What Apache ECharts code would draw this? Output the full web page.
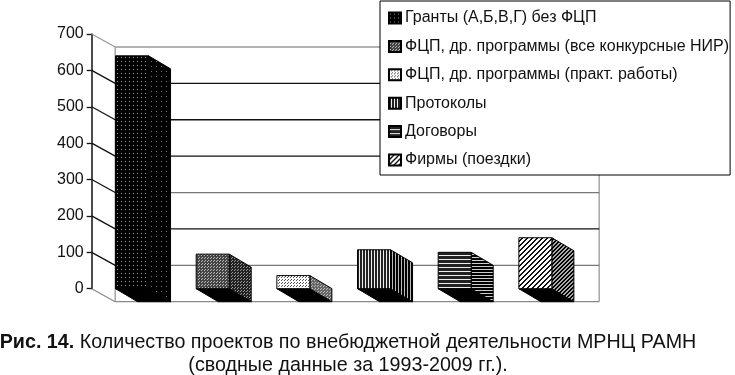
<!DOCTYPE html>
<html><head><meta charset="utf-8">
<style>html,body{margin:0;padding:0;background:#fff}#c{width:735px;height:375px}</style>
<script src="https://cdn.jsdelivr.net/npm/echarts@6/dist/echarts.min.js"></script></head>
<body><div id="c"></div>
<script>
const categories = ['Гранты (А,Б,В,Г) без ФЦП','ФЦП, др. программы (все конкурсные НИР)','ФЦП, др. программы (практ. работы)','Протоколы','Договоры','Фирмы (поездки)'];
const values = [640, 95, 36, 107, 100, 140];
const yTicks = [0,100,200,300,400,500,600,700];
const gridColors = ['#8a8a8a','#777','#111','#777','#111','#111','#111','#999'];
const slantColors = ['#8a8a8a','#111','#111','#111','#111','#111','#111','#999'];

const DX = 23.5, DY = 13, BW = 33, BDX = 22;

function tile(w,h,draw){const c=document.createElement('canvas');c.width=w;c.height=h;const g=c.getContext('2d');draw(g);return {image:c,repeat:'repeat'};}
function px(g,col,pts){g.fillStyle=col;pts.forEach(p=>g.fillRect(p[0],p[1],1,1));}
const bg=(g,col,w,h)=>{g.fillStyle=col;g.fillRect(0,0,w,h);};
const fronts=[
 tile(4,4,g=>{bg(g,'#000',4,4);px(g,'#999',[[1,1]]);}),
 tile(3,3,g=>{bg(g,'#444',3,3);px(g,'#bbb',[[0,0],[1,2]]);}),
 tile(3,3,g=>{bg(g,'#fff',3,3);px(g,'#555',[[0,0],[2,1]]);}),
 tile(3,3,g=>{bg(g,'#eee',3,3);g.fillStyle='#222';g.fillRect(0,0,2,3);}),
 tile(4,4,g=>{bg(g,'#eee',4,4);g.fillStyle='#222';g.fillRect(0,0,4,3);}),
 tile(5,5,g=>{bg(g,'#fff',5,5);px(g,'#111',[[0,4],[1,3],[2,2],[3,1],[4,0],[1,4],[2,3],[3,2],[4,1],[0,0]]);})
];
const sides=[
 tile(5,5,g=>{bg(g,'#000',5,5);px(g,'#777',[[1,1]]);}),
 tile(3,3,g=>{bg(g,'#222',3,3);px(g,'#999',[[0,0],[1,2]]);}),
 tile(3,3,g=>{bg(g,'#666',3,3);px(g,'#bbb',[[0,0],[2,1]]);}),
 tile(3,3,g=>{bg(g,'#bbb',3,3);g.fillStyle='#000';g.fillRect(0,0,2,3);}),
 tile(3,3,g=>{bg(g,'#ccc',3,3);g.fillStyle='#000';g.fillRect(0,0,3,2);}),
 tile(4,4,g=>{bg(g,'#aaa',4,4);px(g,'#000',[[0,3],[1,2],[2,1],[3,0],[1,3],[2,2],[3,1],[0,0]]);})
];

function gridRender(params,api){
  const v=api.value(0), cs=params.coordSys, i=params.dataIndex;
  const y=api.coord([0,v])[1], x0=cs.x, x1=cs.x+cs.width;
  return {type:'group',children:[
    {type:'line',shape:{x1:x0,y1:y,x2:x0+DX,y2:y+DY},style:{stroke:slantColors[i],lineWidth:1.3}},
    {type:'line',shape:{x1:x0+DX,y1:y+DY,x2:x1+DX,y2:y+DY},style:{stroke:gridColors[i],lineWidth:1.3}}
  ]};
}
function wallRender(params,api){
  const cs=params.coordSys, yTop=api.coord([0,700])[1]+DY, yBot=api.coord([0,0])[1]+DY;
  const s={stroke:'#999',lineWidth:1.3};
  return {type:'group',children:[
    {type:'line',shape:{x1:cs.x+DX,y1:yTop,x2:cs.x+DX,y2:yBot},style:s},
    {type:'line',shape:{x1:cs.x+cs.width+DX,y1:yTop,x2:cs.x+cs.width+DX,y2:yBot},style:s}
  ]};
}
function barRender(params,api){
  const k=params.seriesIndex-2;
  const i=api.value(0), top=api.coord([i,api.value(1)]), base=api.coord([i,0]);
  const x0=top[0]-BW/2, x1=x0+BW, yT=top[1], yB=base[1];
  const line={stroke:'#000',lineWidth:1};
  return {type:'group',children:[
    {type:'polygon',shape:{points:[[x0,yB],[x1,yB],[x1+BDX,yB+DY],[x0+BDX,yB+DY]]},style:{fill:'#000',stroke:'#000',lineWidth:1}},
    {type:'polygon',shape:{points:[[x1,yT],[x1+BDX,yT+DY],[x1+BDX,yB+DY],[x1,yB]]},style:Object.assign({fill:sides[k]},line)},
    {type:'polygon',shape:{points:[[x0,yT],[x1,yT],[x1,yB],[x0,yB]]},style:Object.assign({fill:fronts[k]},line)}
  ]};
}
const series=[
  {type:'custom',name:'walls',renderItem:wallRender,data:[[0]],silent:true,z:1},
  {type:'custom',name:'grid',renderItem:gridRender,data:yTicks.map(v=>[v]),silent:true,z:1}
];
categories.forEach((n,i)=>series.push({type:'custom',name:n,renderItem:barRender,data:[[i,values[i]]],z:3,
  itemStyle:{color:fronts[i],borderColor:'#000',borderWidth:1},silent:true}));

const chart=echarts.init(document.getElementById('c'),null,{renderer:'canvas'});
chart.setOption({
  animation:false,backgroundColor:'#fff',
  title:{left:343,textAlign:'center',top:326,
    text:'{b|Рис. 14.} Количество проектов по внебюджетной деятельности МРНЦ РАМН\n(сводные данные за 1993-2009 гг.).',
    textStyle:{fontFamily:'Liberation Sans',fontSize:19.7,fontWeight:'normal',color:'#111',lineHeight:23,
      rich:{b:{fontFamily:'Liberation Sans',fontSize:19.7,fontWeight:'bold',color:'#111',lineHeight:23}}}},
  grid:{left:91.7,top:34,width:484,height:254.7},
  xAxis:{type:'category',data:categories,show:false},
  yAxis:{type:'value',min:0,max:700,interval:100,
    axisLine:{show:true,lineStyle:{color:'#111',width:1.5}},
    axisTick:{show:true,length:5,lineStyle:{color:'#111',width:1.3}},
    axisLabel:{fontFamily:'Liberation Sans',fontSize:16,color:'#111',margin:8},
    splitLine:{show:false}},
  legend:{data:categories,orient:'vertical',left:380,top:1,itemWidth:12,itemHeight:11,itemGap:12.4,
    icon:'rect',selectedMode:false,backgroundColor:'#fff',borderColor:'#000',borderWidth:1,
    padding:[9,1,7,8],textStyle:{fontFamily:'Liberation Sans',fontSize:16,color:'#111',padding:[0,0,0,-1]}},
  series
});
</script></body></html>
